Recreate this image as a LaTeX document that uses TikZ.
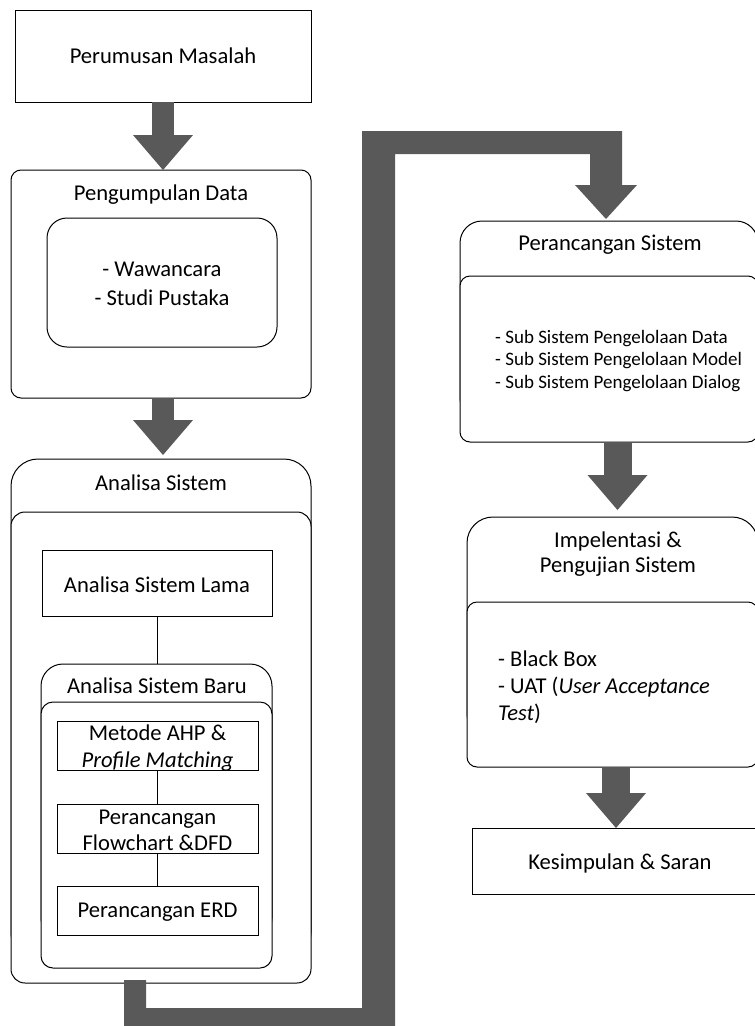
\documentclass[tikz,border=0pt]{standalone}
\usepackage{fontspec}
\setmainfont{Carlito}
\usetikzlibrary{arrows.meta,calc}
\definecolor{arrowgray}{RGB}{89,89,89}
\begin{document}
\begin{tikzpicture}[x=1pt,y=-1pt,
  box/.style={draw=black, line width=1pt, fill=white, inner sep=0pt, outer sep=0pt},
  txt/.style={font=\fontsize{22.6}{27}\selectfont, inner sep=0pt, anchor=base, align=center},
  stxt/.style={font=\fontsize{19}{22.5}\selectfont, inner sep=0pt, anchor=base west, align=left},
  bigarrow/.style={draw=arrowgray, line width=#1, -{Triangle[width=60pt,length=35pt,line width=0pt]}},
  thin/.style={draw=black, line width=1pt}
]
\useasboundingbox (0,0) rectangle (755,1026);

% left column
\node[box, minimum width=296pt, minimum height=92pt] (pm) at (163,56) {};
\node[txt] (pmt) at (163,63.3) {Perumusan Masalah};

\node[box, rounded corners=10pt, minimum width=300pt, minimum height=228pt] (pd) at (161,284) {};
\node[txt] (pdt) at (161,200.3) {Pengumpulan Data};
\node[box, rounded corners=20pt, minimum width=230pt, minimum height=129pt] (pdin) at (162,282.5) {};
\node[txt, font=\fontsize{22.6}{29}\selectfont] (pdint) at (162,305.3) {- Wawancara\\- Studi Pustaka};

\node[box, rounded corners=27pt, minimum width=300pt, minimum height=501pt] (as) at (161,709.5) {};
\node[txt] (ast) at (161,490.3) {Analisa Sistem};
\node[box, rounded corners=14pt, minimum width=300pt, minimum height=471pt] (asin) at (161,747.5) {};

\node[box, minimum width=230pt, minimum height=66pt] (lama) at (157,583) {};
\node[txt] (lamat) at (157,592.3) {Analisa Sistem Lama};

\node[box, rounded corners=22pt, minimum width=231pt, minimum height=276pt] (baru) at (156.5,802) {};
\node[txt] (barut) at (157,693.3) {Analisa Sistem Baru};
\node[box, rounded corners=12pt, minimum width=231pt, minimum height=266pt] (baruin) at (156.5,835) {};

\node[box, minimum width=201pt, minimum height=49pt] (ahp) at (157.5,745.5) {};
\node[txt] (ahpt) at (157.5,767.3) {Metode AHP \&\\\textit{Profile Matching}};
\node[box, minimum width=201pt, minimum height=49pt] (flow) at (157.5,828.5) {};
\node[txt, font=\fontsize{22.6}{26}\selectfont] (flowt) at (157.5,850.3) {Perancangan\\Flowchart \&DFD};
\node[box, minimum width=201pt, minimum height=49pt] (erd) at (157.5,910.5) {};
\node[txt] (erdt) at (157.5,917.3) {Perancangan ERD};

\draw[thin] (lama.south) -- (lama.south |- baru.north);
\draw[thin] (ahp.south) -- (flow.north);
\draw[thin] (flow.south) -- (erd.north);

% right column
\node[box, rounded corners=22pt, minimum width=298pt, minimum height=199pt] (ps) at (609,320.5) {};
\node[txt] (pst) at (610,250.3) {Perancangan Sistem};
\node[box, rounded corners=10pt, minimum width=298pt, minimum height=166pt] (psin) at (609,359) {};
\node[stxt] (psint) at (495,388.1) {- Sub Sistem Pengelolaan Data\\- Sub Sistem Pengelolaan Model\\- Sub Sistem Pengelolaan Dialog};

\node[box, rounded corners=26pt, minimum width=291pt, minimum height=223pt] (ip) at (612.5,628.5) {};
\node[txt, font=\fontsize{22.6}{25}\selectfont] (ipt) at (618,572.3) {Impelentasi \&\\Pengujian Sistem};
\node[box, rounded corners=10pt, minimum width=291pt, minimum height=165pt] (ipin) at (612.5,684.5) {};
\node[txt, anchor=base west, align=left] (ipint) at (498,720.3) {- Black Box\\- UAT (\textit{User Acceptance}\\\textit{Test})};

\node[box, minimum width=288pt, minimum height=66pt] (ks) at (616,861) {};
\node[txt] (kst) at (620,869.3) {Kesimpulan \& Saran};

% thick arrows
\draw[bigarrow=22pt] (pm.south) -- (pm.south |- pd.north);
\draw[bigarrow=22pt, shorten >=4pt] (pd.south -| pm.south) -- (pm.south |- as.north);
\draw[bigarrow=28pt, shorten >=7pt] ([xshift=5pt]psin.south -| ip.north) -- ([xshift=5pt]ip.north);
\draw[bigarrow=28pt] (ipin.south -| ks.north) -- (ks.north);

% bent connector from Analisa Sistem to Perancangan Sistem
\fill[arrowgray] (124,980) -- (146,980) -- (146,1008) -- (362,1008) -- (362,131)
  -- (622,131) -- (622,185) -- (637,185) -- (606,219) -- (575,185) -- (590,185)
  -- (590,154) -- (395,154) -- (395,1032) -- (124,1032) -- cycle;
\end{tikzpicture}
\end{document}
